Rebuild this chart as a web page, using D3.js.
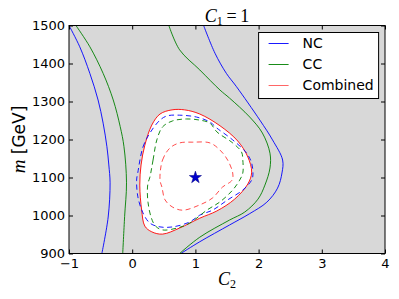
<!DOCTYPE html>
<html>
<head>
<meta charset="utf-8">
<script src="https://cdnjs.cloudflare.com/ajax/libs/d3/7.8.5/d3.min.js"></script>
<style>
  body { margin: 0; background: #fff; }
  .tick text { font-family: "DejaVu Sans", sans-serif; font-size: 13px; fill: #000; }
  .math { font-family: "Liberation Serif", "DejaVu Serif", serif; }
</style>
</head>
<body>
<div id="chart"></div>
<script>
// axis ticks
var xTicks = [-1, 0, 1, 2, 3, 4];
var yTicks = [900, 1000, 1100, 1200, 1300, 1400, 1500];

// best fit point (C2, m)
var bestFit = [1, 1100];

// NC (blue solid), two open branches
var ncLeft = [[-1.00,1500],[-0.83,1444],[-0.67,1374],[-0.54,1304],[-0.46,1243],[-0.40,1181],
  [-0.37,1133],[-0.35,1086],[-0.38,996],[-0.48,900]];
var ncRight = [[1.13,1500],[1.31,1427],[1.49,1374],[1.65,1339],[2.02,1251],[2.22,1199],
  [2.38,1146],[2.37,1112],[2.30,1072],[2.13,1035],[1.86,1005],[1.54,975],[1.07,931],[0.77,900]];

// CC (green solid)
var ccLeft = [[-0.89,1500],[-0.67,1444],[-0.46,1374],[-0.30,1304],[-0.19,1234],[-0.13,1181],
  [-0.09,1086],[-0.12,997],[-0.15,900]];
var ccRight = [[0.58,1500],[0.75,1436],[1.07,1383],[1.39,1330],[1.54,1309],[1.86,1259],
  [2.06,1217],[2.18,1164],[2.18,1125],[2.10,1080],[1.99,1043],[1.78,1009],[1.54,988],
  [1.07,943],[0.75,900]];

// Combined (red solid), closed
var combSolid = [[1.07,993],[0.75,967],[0.48,951],[0.31,957],[0.20,972],[0.15,1014],
  [0.12,1080],[0.14,1133],[0.20,1185],[0.31,1238],[0.44,1267],[0.63,1278],[0.83,1278],
  [1.07,1267],[1.39,1236],[1.67,1196],[1.83,1154],[1.89,1114],[1.83,1083],[1.62,1043],
  [1.34,1012]];

// dashed (inner) contours, closed
var ncDashed = [[0.09,1114],[0.17,1180],[0.28,1217],[0.44,1251],[0.55,1262],[0.75,1264],
  [1.02,1259],[1.23,1246],[1.34,1230],[1.59,1199],[1.81,1164],[1.89,1138],[1.91,1107],
  [1.89,1093],[1.75,1067],[1.51,1041],[1.27,1014],[1.07,1001],[0.91,983],[0.64,970],
  [0.44,970],[0.28,980],[0.17,1007],[0.09,1049],[0.07,1093]];
var ccDashed = [[0.28,1101],[0.33,1146],[0.39,1199],[0.48,1233],[0.64,1249],[0.86,1254],
  [1.07,1251],[1.23,1243],[1.34,1220],[1.59,1191],[1.73,1167],[1.75,1146],[1.75,1112],
  [1.70,1093],[1.59,1067],[1.39,1036],[1.18,1014],[0.91,980],[0.71,967],[0.48,962],
  [0.37,972],[0.30,995],[0.25,1035],[0.24,1067],[0.25,1085]];
var combDashed = [[0.44,1093],[0.48,1146],[0.60,1178],[0.75,1191],[0.96,1193],[1.23,1191],
  [1.39,1172],[1.51,1146],[1.59,1112],[1.58,1093],[1.43,1075],[1.27,1046],[1.07,1028],
  [0.80,1014],[0.64,1022],[0.52,1041],[0.47,1075]];

var legendLabels = ["NC", "CC", "Combined"];
var colors = {nc: "#0000ff", cc: "#008000", comb: "#ff0000"};

var W = 399, H = 299;
var margin = {top: 25.5, right: 14, bottom: 45.5, left: 69},
    width = W - margin.left - margin.right,
    height = H - margin.top - margin.bottom;

var x = d3.scaleLinear().domain([-1, 4]).range([0, width]);
var y = d3.scaleLinear().domain([900, 1500]).range([height, 0]);

var svg = d3.select("#chart").append("svg")
    .attr("width", W).attr("height", H);
var g = svg.append("g")
    .attr("transform", "translate(" + margin.left + "," + margin.top + ")");

svg.append("defs").append("clipPath").attr("id", "clip")
  .append("rect").attr("width", width).attr("height", height);

// background
g.append("rect").attr("width", width).attr("height", height).attr("fill", "#d8d8d8");

var openLine = d3.line().x(function (d) { return x(d[0]); }).y(function (d) { return y(d[1]); })
    .curve(d3.curveCatmullRom);
var closedLine = d3.line().x(function (d) { return x(d[0]); }).y(function (d) { return y(d[1]); })
    .curve(d3.curveCatmullRomClosed);

var plot = g.append("g").attr("clip-path", "url(#clip)");

// allowed region in white
plot.append("path").attr("d", closedLine(combSolid)).attr("fill", "#fff");

function draw(data, line, color, dashed, op) {
  plot.append("path")
    .attr("d", line(data))
    .attr("fill", "none")
    .attr("stroke", color)
    .attr("stroke-width", 1)
    .attr("stroke-opacity", op || 0.9)
    .attr("stroke-dasharray", dashed ? "5,3.5" : null);
}

draw(ncLeft, openLine, colors.nc, false);
draw(ncRight, openLine, colors.nc, false);
draw(ccLeft, openLine, colors.cc, false);
draw(ccRight, openLine, colors.cc, false);
draw(combSolid, closedLine, colors.comb, false);
draw(ncDashed, closedLine, colors.nc, true);
draw(ccDashed, closedLine, colors.cc, true);
draw(combDashed, closedLine, colors.comb, true, 0.7);

// best fit star
plot.append("path")
  .attr("d", d3.symbol().type(d3.symbolStar).size(46)())
  .attr("transform", "translate(" + x(bestFit[0]) + "," + y(bestFit[1]) + ")")
  .attr("fill", "#0000cc")
  .attr("stroke", "#000080")
  .attr("stroke-width", 0.5);

// axes, inward ticks on all sides
function styleAxis(sel) {
  sel.select(".domain").remove();
  sel.selectAll(".tick line").attr("stroke", "#000").attr("stroke-width", 1);
}
g.append("g").attr("transform", "translate(0," + height + ")")
  .call(d3.axisBottom(x).tickValues(xTicks).tickSize(-4).tickPadding(5)
    .tickFormat(function (d) { return d < 0 ? "\u2212" + Math.abs(d) : d; }))
  .call(styleAxis);
g.append("g")
  .call(d3.axisLeft(y).tickValues(yTicks).tickSize(-4).tickPadding(4).tickFormat(d3.format("d")))
  .call(styleAxis);
g.append("g")
  .call(d3.axisTop(x).tickValues(xTicks).tickSize(-4).tickFormat(""))
  .call(styleAxis);
g.append("g").attr("transform", "translate(" + width + ",0)")
  .call(d3.axisRight(y).tickValues(yTicks).tickSize(-4).tickFormat(""))
  .call(styleAxis);

g.append("rect").attr("width", width).attr("height", height)
  .attr("fill", "none").attr("stroke", "#000").attr("stroke-width", 1);

// title C_1 = 1
var title = g.append("text").attr("class", "math")
  .attr("x", width / 2).attr("y", -4)
  .attr("text-anchor", "middle").style("font-size", "18px");
title.append("tspan").style("font-style", "italic").text("C");
title.append("tspan").attr("dy", 3).style("font-size", "12px").text("1");
title.append("tspan").attr("dy", -3).text("\u2009=\u20091");

// x label C_2
var xl = g.append("text").attr("class", "math")
  .attr("x", width / 2).attr("y", height + 31)
  .attr("text-anchor", "middle").style("font-size", "18px");
xl.append("tspan").style("font-style", "italic").text("C");
xl.append("tspan").attr("dy", 3).style("font-size", "12px").text("2");

// y label m [GeV]
var yl = svg.append("text")
  .attr("transform", "translate(25," + (margin.top + height / 2) + ") rotate(-90)")
  .attr("text-anchor", "middle").style("font-size", "17px");
yl.append("tspan").attr("class", "math").style("font-style", "italic").style("font-size", "19px").text("m");
yl.append("tspan").style("font-family", "DejaVu Sans, sans-serif").text(" [GeV]");

// legend
var lg = g.append("g").attr("transform", "translate(" + x(2.0) + ",7)");
lg.append("rect").attr("width", 120).attr("height", 66)
  .attr("fill", "#fff").attr("stroke", "#000").attr("stroke-width", 1);
var legendColors = [colors.nc, colors.cc, colors.comb];
legendLabels.forEach(function (lab, i) {
  var yy = 11 + i * 21;
  lg.append("line").attr("x1", 10).attr("x2", 30).attr("y1", yy).attr("y2", yy)
    .attr("stroke", legendColors[i]).attr("stroke-width", 1)
    .attr("stroke-opacity", i === 2 ? 0.6 : 0.9);
  lg.append("text").attr("x", 44).attr("y", yy).attr("dy", "0.35em")
    .style("font-family", "DejaVu Sans, sans-serif").style("font-size", "14px")
    .text(lab);
});
</script>
</body>
</html>
